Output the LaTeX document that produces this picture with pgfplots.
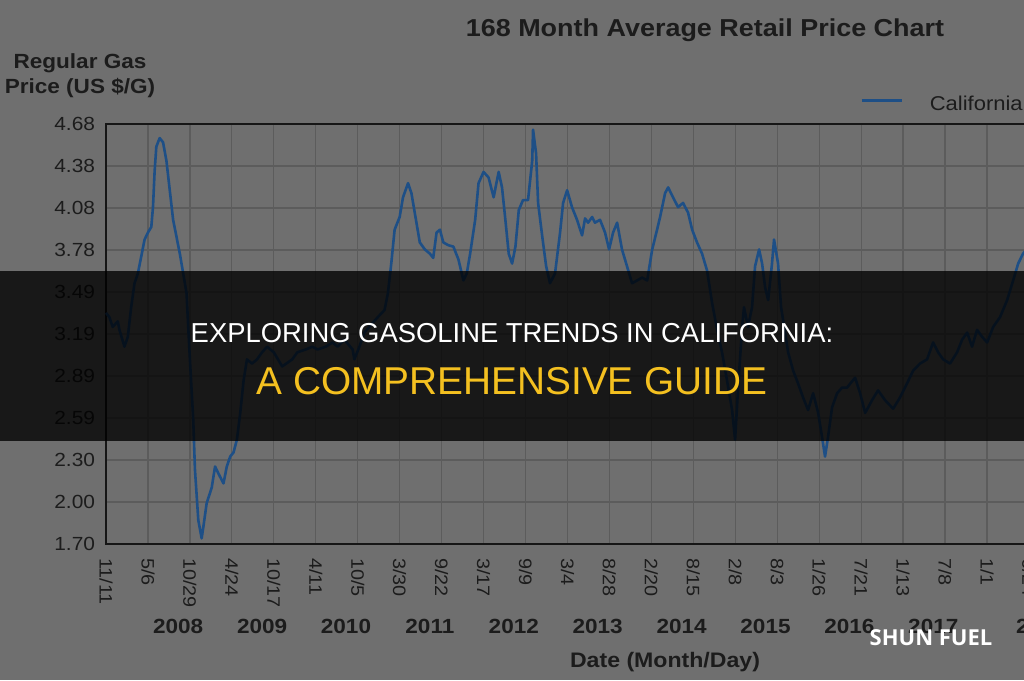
\documentclass[border=0pt]{standalone}
\usepackage{fontspec}
\setmainfont{Liberation Sans}
\newfontfamily\chartfont{Liberation Sans}[FakeStretch=1.1]
\newfontfamily\logofont{Open Sans}
\usepackage{pgfplots}
\pgfplotsset{compat=1.18}
\definecolor{bgc}{HTML}{6F6F6F}
\definecolor{gridc}{HTML}{5C5C5C}
\definecolor{framec}{HTML}{161616}
\definecolor{textc}{HTML}{1C1C1C}
\definecolor{linec}{HTML}{1E4F86}
\definecolor{yellowc}{HTML}{F4C020}

\pgfplotstableread{
w price
0 3.34
2 3.31
4 3.24
7 3.28
8 3.22
11 3.10
13 3.17
15 3.38
17 3.55
19 3.62
21 3.74
23 3.86
25 3.91
27 3.95
28 4.09
29 4.35
30 4.52
32 4.58
34 4.55
36 4.42
38 4.21
40 4.00
42 3.88
44 3.76
46 3.62
48 3.48
49 3.24
50 3.01
52 2.58
53 2.23
55 1.87
57 1.74
58 1.82
60 1.99
63 2.10
65 2.25
67 2.20
70 2.13
72 2.25
74 2.32
76 2.35
78 2.44
80 2.63
82 2.86
84 3.01
87 2.98
90 3.01
93 3.06
96 3.10
100 3.06
105 2.96
111 3.01
114 3.06
119 3.08
123 3.10
126 3.08
131 3.10
135 3.13
138 3.10
142 3.15
147 3.08
148 3.01
151 3.10
154 3.20
159 3.27
162 3.31
166 3.36
168 3.48
170 3.69
172 3.93
175 4.02
177 4.16
180 4.26
182 4.19
184 4.05
187 3.84
190 3.79
193 3.76
195 3.73
197 3.91
199 3.93
201 3.84
204 3.82
207 3.81
210 3.72
213 3.57
215 3.62
217 3.76
220 4.00
222 4.26
225 4.34
228 4.30
231 4.16
234 4.34
236 4.23
238 4.00
240 3.76
242 3.69
244 3.81
246 4.07
248.5 4.14
251.5 4.14
254 4.42
254.5 4.64
256.3 4.47
257.5 4.12
260 3.88
262.3 3.67
264.6 3.55
267.6 3.62
270.6 3.91
272.4 4.12
274.8 4.21
277.7 4.09
280.7 4.00
283.7 3.89
285.5 4.01
287.3 3.98
289.7 4.02
291.4 3.98
294.4 4.00
297.4 3.91
299.8 3.79
302.2 3.91
304.6 3.98
307.5 3.79
310.5 3.67
313.5 3.55
316.5 3.57
319.5 3.59
322.5 3.57
325.5 3.79
328.4 3.93
330.2 4.02
333.2 4.19
335.0 4.23
337.9 4.16
340.9 4.09
343.9 4.12
346.9 4.05
349.3 3.93
352.2 3.84
355.2 3.76
358.2 3.64
361.2 3.41
364.2 3.22
367.1 3.06
370.1 2.86
373.1 2.65
374.9 2.44
376.7 2.81
379.1 3.24
380.2 3.38
382.6 3.24
385.0 3.38
386.8 3.67
389.2 3.79
391.0 3.69
392.8 3.52
394.6 3.43
396.9 3.69
398.1 3.86
400.5 3.69
402.3 3.38
404.7 3.20
406.5 3.06
409.5 2.93
412.4 2.84
415.4 2.74
418.4 2.65
421.4 2.77
424.4 2.63
426.7 2.46
428.5 2.32
430.3 2.46
432.7 2.67
435.7 2.77
438.7 2.81
441.6 2.81
446.4 2.88
449.4 2.77
452.4 2.63
456.5 2.72
460.1 2.79
464.3 2.72
469.1 2.66
473.2 2.74
477.4 2.84
481.0 2.93
485.1 2.98
489.3 3.01
492.9 3.13
495.9 3.06
498.9 3.01
503.0 2.98
507.2 3.06
510.2 3.15
513.2 3.20
516.1 3.10
519.1 3.22
522.1 3.17
525.1 3.13
528.7 3.24
532.8 3.31
537.0 3.43
540.6 3.57
543.6 3.69
546.5 3.76
550.7 3.82
}\catable

\begin{document}
\begin{tikzpicture}
\path[use as bounding box] (0pt,0pt) rectangle (1024pt,680pt);
\clip (0pt,0pt) rectangle (1024pt,680pt);
\fill[bgc] (0pt,0pt) rectangle (1024pt,680pt);
\begin{axis}[
  at={(106pt,136pt)}, anchor=south west,
  scale only axis, width=939.7pt, height=420pt,
  xmin=0, xmax=560, ymin=1.70, ymax=4.68,
  xtick={0,25,...,550},
  xticklabels={11/11,5/6,10/29,4/24,10/17,4/11,10/5,3/30,9/22,3/17,9/9,3/4,8/28,2/20,8/15,2/8,8/3,1/26,7/21,1/13,7/8,1/1,6/24},
  ytick={1.70,1.998,2.296,2.594,2.892,3.19,3.488,3.786,4.084,4.382,4.68},
  yticklabels={1.70,2.00,2.30,2.59,2.89,3.19,3.49,3.78,4.08,4.38,4.68},
  grid=major, major grid style={draw=gridc, line width=1.2pt},
  axis line style={draw=framec, line width=2pt},
  major tick length=0pt, tick style={draw=none},
  ticklabel style={text=textc},
  xticklabel style={font=\chartfont\fontsize{18}{18}\selectfont, rotate=-90, anchor=west, inner sep=0pt, outer xsep=14pt},
  yticklabel style={font=\chartfont\fontsize{19}{19}\selectfont, anchor=east, inner sep=0pt, outer xsep=11pt},
  clip=false,
  legend style={at={(axis description cs:0.8024,1.0476)}, anchor=west, draw=none, fill=none, inner sep=0pt,
    font=\chartfont\fontsize{20}{20}\selectfont, text=textc,
    /tikz/every odd column/.append style={column sep=27pt}, nodes={inner sep=0pt}},
  legend image code/.code={\draw[#1] (0pt,0.36em) -- (40pt,0.36em);},
]
\addplot[color=linec, line width=2.6pt, line join=round] table[x=w, y=price] {\catable};
\addlegendentry{California}
\end{axis}

\node[anchor=base, text=textc, font=\chartfont\bfseries\fontsize{24.5}{24.5}\selectfont] at (705pt,643pt) {168 Month Average Retail Price Chart};
\node[align=center, text=textc, font=\chartfont\bfseries\fontsize{20.5}{25}\selectfont] at (80pt,604pt) {Regular Gas\\Price (US \$/G)};
\foreach \yr [count=\i from 0] in {2008,2009,2010,2011,2012,2013,2014,2015,2016,2017}
  \node[text=textc, font=\chartfont\bfseries\fontsize{20.5}{20.5}\selectfont] at ({178.2pt+83.9pt*\i},54pt) {\yr};
\node[anchor=west, text=textc, font=\chartfont\bfseries\fontsize{20.5}{20.5}\selectfont, inner sep=0pt] at (1016pt,54pt) {2018};
\node[anchor=base, text=textc, font=\chartfont\bfseries\fontsize{21}{21}\selectfont] at (665pt,12.5pt) {Date (Month/Day)};

\fill[black, opacity=0.78] (0pt,239pt) rectangle (1024pt,409pt);
\node[text=white, font=\fontsize{27.4}{27.4}\selectfont] at (512pt,347pt) {EXPLORING GASOLINE TRENDS IN CALIFORNIA:};
\node[text=yellowc, font=\fontsize{38.8}{38.8}\selectfont] at (512pt,299pt) {A COMPREHENSIVE GUIDE};
\node[text=white, font=\logofont\bfseries\fontsize{22}{22}\selectfont] at (931pt,42pt) {SHUN FUEL};
\end{tikzpicture}
\end{document}
